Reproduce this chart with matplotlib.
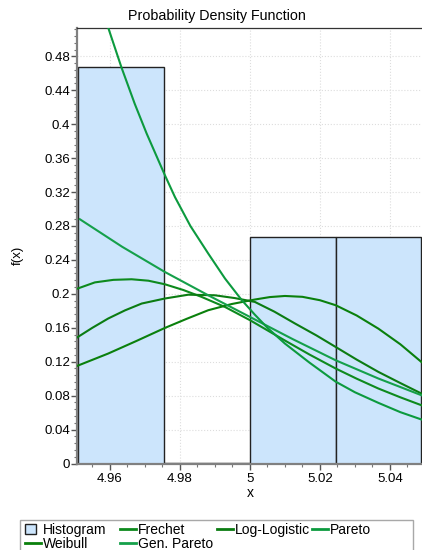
import matplotlib.pyplot as plt
import numpy as np
from matplotlib.patches import Rectangle, Patch
from matplotlib.lines import Line2D
from matplotlib.legend_handler import HandlerPatch
from matplotlib.ticker import MultipleLocator, FuncFormatter

plt.rcParams['font.family'] = ['Liberation Sans', 'DejaVu Sans']

# histogram bins
bin_left = [4.951, 4.9755, 5.0, 5.0245]
bin_height = [0.467, 0.001, 0.267, 0.267]
bin_width = 0.0245

# fitted densities
frechet_x = [4.9506, 4.9557, 4.9610, 4.9662, 4.9710, 4.9757, 4.9810, 4.9862, 4.9929, 5.0,
             5.005, 5.010, 5.017, 5.0245, 5.0305, 5.0367, 5.043, 5.049]
frechet_y = [0.206, 0.2135, 0.2165, 0.2172, 0.2155, 0.2113, 0.2045, 0.1964, 0.1845, 0.169,
             0.157, 0.145, 0.1285, 0.112, 0.100, 0.0884, 0.078, 0.0687]

weibull_x = [4.9506, 4.9595, 4.9676, 4.9757, 4.9819, 4.9881, 4.9948, 5.0014, 5.0057, 5.010,
             5.015, 5.020, 5.0245, 5.0305, 5.0367, 5.043, 5.049]
weibull_y = [0.115, 0.1296, 0.1445, 0.1598, 0.1705, 0.1807, 0.188, 0.1933, 0.1962, 0.1975,
             0.1965, 0.1925, 0.1866, 0.1745, 0.159, 0.1405, 0.1197]

loglog_x = [4.9506, 4.9550, 4.9595, 4.9643, 4.9691, 4.9757, 4.9824, 4.9900, 4.9957, 5.0014,
            5.007, 5.0129, 5.019, 5.0245, 5.0305, 5.0367, 5.043, 5.049]
loglog_y = [0.1485, 0.160, 0.1709, 0.1805, 0.1886, 0.1945, 0.199, 0.1983, 0.195, 0.1905,
            0.179, 0.165, 0.151, 0.1374, 0.1225, 0.108, 0.0948, 0.0825]

genpareto_x = [4.9514, 4.9635, 4.9757, 4.9881, 5.0, 5.0122, 5.0245, 5.0367, 5.049]
genpareto_y = [0.288, 0.2555, 0.2258, 0.1983, 0.1728, 0.1467, 0.1217, 0.1002, 0.0805]

pareto_x = [4.9595, 4.9633, 4.9671, 4.9705, 4.9757, 4.9786, 4.9830, 4.9881, 4.9929, 4.9976,
            5.0014, 5.005, 5.010, 5.017, 5.0245, 5.030, 5.0367, 5.043, 5.049]
pareto_y = [0.514, 0.467, 0.424, 0.389, 0.340, 0.314, 0.280, 0.2475, 0.218, 0.193,
            0.1755, 0.160, 0.1414, 0.119, 0.0965, 0.084, 0.0715, 0.0605, 0.0519]

c_frechet = '#0d8a1d'
c_weibull = '#0a800c'
c_loglog = '#0b7c12'
c_genpareto = '#15a04a'
c_pareto = '#0c9a3e'
c_hist = '#cce5fc'

W, H = 422, 550
x_lo, x_hi = 4.9506, 5.0494
fig = plt.figure(figsize=(W / 100, H / 100), dpi=100)
ax = fig.add_axes([77 / W, (H - 463.5) / H, (x_hi - x_lo) * 3500 / W, 436 / H])

ax.bar(bin_left, bin_height, width=bin_width, align='edge',
       color=c_hist, edgecolor='#222222', linewidth=1.0, zorder=2)

lw = 1.5
ax.plot(frechet_x, frechet_y, color=c_frechet, lw=lw, zorder=3)
ax.plot(weibull_x, weibull_y, color=c_weibull, lw=lw, zorder=3)
ax.plot(loglog_x, loglog_y, color=c_loglog, lw=lw, zorder=3)
ax.plot(genpareto_x, genpareto_y, color=c_genpareto, lw=lw, zorder=3)
ax.plot(pareto_x, pareto_y, color=c_pareto, lw=lw, zorder=3)

ax.set_xlim(x_lo, x_hi)
ax.set_ylim(0, 0.514)
ax.xaxis.set_major_locator(MultipleLocator(0.02))
ax.xaxis.set_minor_locator(MultipleLocator(0.005))
ax.yaxis.set_major_locator(MultipleLocator(0.04))
ax.yaxis.set_minor_locator(MultipleLocator(0.008))
fmt = FuncFormatter(lambda v, p: '%g' % round(v, 4))
ax.xaxis.set_major_formatter(fmt)
ax.yaxis.set_major_formatter(fmt)
ax.tick_params(which='major', length=4, width=1, color='#555555', labelsize=9.5, pad=1)
ax.tick_params(axis='x', which='major', pad=3)
ax.tick_params(which='minor', length=2.5, width=0.8, color='#777777')
ax.grid(True, which='major', color='#dddddd', linestyle=':', linewidth=0.8, zorder=0)
ax.set_axisbelow(True)

for s in ['left', 'bottom']:
    ax.spines[s].set_color('#808080')
    ax.spines[s].set_linewidth(1.6)
ax.spines['top'].set_color('#333333')
ax.spines['top'].set_linewidth(0.9)
ax.spines['right'].set_visible(False)

fig.text(217 / W, 1 - 16 / H, 'Probability Density Function', ha='center', va='center', fontsize=10.3)
fig.text(18 / W, 1 - 255 / H, 'f(x)', rotation=90, ha='center', va='center', fontsize=9.5)
fig.text(250 / W, 1 - 493 / H, 'x', ha='center', va='center', fontsize=10)


# legend: square swatch for the histogram, one legend per column
def square(legend, orig_handle, xdescent, ydescent, width, height, fontsize):
    return Rectangle((-xdescent, -ydescent), height, height)


fig.patches.append(Rectangle((20 / W, -0.05), 393 / W, 0.05 + (H - 519.5) / H,
                             transform=fig.transFigure, facecolor='white',
                             edgecolor='#a8a8a8', linewidth=1.0))

columns = [
    ([Patch(facecolor=c_hist, edgecolor='#222222', linewidth=1.0),
      Line2D([], [], color=c_weibull, lw=2)], ['Histogram', 'Weibull'], 25),
    ([Line2D([], [], color=c_frechet, lw=2),
      Line2D([], [], color=c_genpareto, lw=2)], ['Frechet', 'Gen. Pareto'], 120),
    ([Line2D([], [], color=c_loglog, lw=2)], ['Log-Logistic'], 217),
    ([Line2D([], [], color=c_pareto, lw=2)], ['Pareto'], 312),
]
for hs, ls, x0 in columns:
    fig.legend(hs, ls, frameon=False, loc='upper left',
               bbox_to_anchor=(x0 / W, 1 - 523 / H), fontsize=10,
               handlelength=1.15, handleheight=0.8, handletextpad=0.15,
               labelspacing=0.0, borderpad=0, borderaxespad=0,
               handler_map={Patch: HandlerPatch(patch_func=square)})

fig.savefig('out.png', dpi=100)
